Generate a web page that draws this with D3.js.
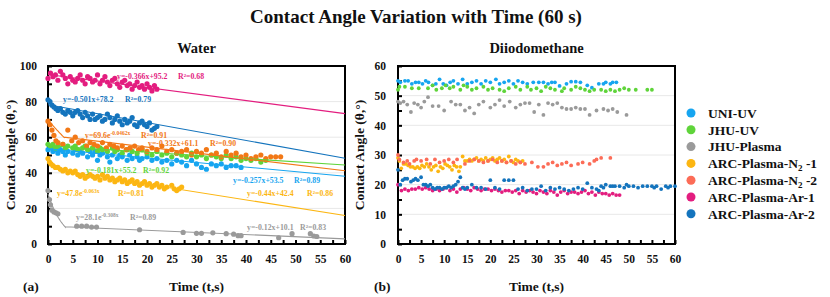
<!DOCTYPE html>
<html>
<head>
<meta charset="utf-8">
<script src="https://cdn.jsdelivr.net/npm/d3@7"></script>
<style>
  body { margin: 0; background: #fff; }
  text { font-family: "Liberation Serif", "DejaVu Serif", serif; font-weight: 700; }
</style>
</head>
<body>
<div id="chart"></div>
<script>
// ── Series names + colours ──────────────────────────────────────────────
const SERIES = ["UNI-UV", "JHU-UV", "JHU-Plasma", "ARC-Plasma-N2-1", "ARC-Plasma-N2-2", "ARC-Plasma-Ar-1", "ARC-Plasma-Ar-2"];
const COLORS = ["#16a5f0", "#5fd43a", "#9a9a9a", "#fcb612", "#fc6c57", "#e31d7f", "#1474bd"];
const WATER_COLORS = ["#16a5f0", "#5fd43a", "#9a9a9a", "#fcb612", "#f27816", "#e31d7f", "#1474bd"];

const TIME_TICKS = [0, 5, 10, 15, 20, 25, 30, 35, 40, 45, 50, 55, 60];
const WATER_TICKS = [0, 20, 40, 60, 80, 100];
const DIIODO_TICKS = [0, 10, 20, 30, 40, 50, 60];

// ── Water: [time s, angle °] ────────────────────────────────────────────
const waterUniUV = [[0,53],[0.5,54],[1,52],[1.5,53],[2,51],[2.5,53],[3,52],[3.5,50],[4,52],[5,51],[5.5,53],[6,50],[6.5,52],[7,51],[8,49],[8.5,52],[9,50],[9.5,52],[10,47],[10.5,50],[11,51],[12,49],[12.5,46],[13,50],[14,48],[14.5,50],[15,49],[16,47],[16.5,50],[17,48],[18,49],[18.5,47],[19,48],[20,49],[21,47],[22,48],[23,46],[24,47],[25,45],[26,47],[27,46],[28,44],[29,47],[30,45],[31,43],[32,42],[33,45],[34,44],[35,45],[36,43],[37,44],[38,44],[39,43]];
const waterJhuUV = [[0,56],[0.5,55],[1,56],[1.5,54],[2,55],[3,56],[3.5,54],[4,55],[5,54],[5.5,55],[6,53],[7,54],[7.5,55],[8,53],[9,54],[10,52],[10.5,54],[11,53],[12,52],[13,54],[13.5,52],[14,53],[15,51],[16,53],[17,52],[18,51],[19,53],[20,51],[21,50],[22,52],[23,50],[24,51],[25,49],[26,51],[27,50],[28,49],[29,51],[30,49],[31,50],[32,48],[33,50],[34,49],[35,48],[36,50],[37,48],[38,49],[39,47],[40,48],[41,47],[42,48],[43,46],[44,47]];
const waterJhuPlasma = [[0,30],[0.3,25],[0.5,22],[0.8,19],[1.2,18],[1.6,17.5],[2,17],[5.8,10],[6.8,10],[7.8,10],[8.8,9.5],[9.8,9.5],[18.5,8],[27.3,6.5],[30,6],[31,6],[33.3,6.3],[36,5.8],[37.5,5.5],[38.4,4.7],[39,4.7],[46.6,3.5],[49.3,5.8],[53,5.8],[53.7,4.5],[54.3,4.2]];
const waterArcN2a = [[0,48],[0.3,46],[0.6,45],[1,44],[1.5,43],[2,43],[2.5,42],[3,41],[3.5,42],[4,40],[4.5,41],[5,40],[5.5,41],[6,39],[6.5,38],[7,39],[7.5,37],[8,38],[8.5,39],[9,38],[9.5,37],[10,38],[10.5,36],[11,39],[11.5,37],[12,38],[12.5,36],[13,37],[13.5,35],[14,36],[14.5,37],[15,35],[15.5,36],[16,34],[16.5,35],[17,36],[17.5,34],[18,35],[18.5,33],[19,34],[19.5,35],[20,33],[20.5,34],[21,32],[21.5,33],[22,34],[22.5,32],[23,33],[23.5,31],[24,32],[25,33],[25.5,31],[26,30],[26.5,31],[27,32]];
const waterArcN2b = [[0,69],[0.4,67],[0.8,64],[1.2,61],[1.6,58],[2,57],[3,56],[4,64],[4.8,58],[5.5,60],[6.2,57],[7,58],[7.8,55],[8.5,57],[9.3,56],[10,55],[11,57],[11.8,54],[12.5,56],[13.3,55],[14,54],[15,55],[15.8,53],[16.6,54],[17.5,55],[18.3,53],[19,54],[20,52],[21,54],[22,53],[23,55],[24,52],[25,53],[26,51],[27,52],[28,53],[29,50],[30,52],[31,51],[32,53],[33,50],[34,51],[35,49],[36,52],[37,50],[38,51],[39,49],[40,50],[41,48],[42,49],[43,50],[44,48],[45,49],[46,49],[47,49]];
const waterArcAr1 = [[0,93],[0.5,96],[1,94],[1.5,95],[2,92],[2.5,97],[3,95],[3.5,93],[4,90],[4.5,94],[5,92],[5.5,91],[6,93],[6.5,95],[7,92],[7.5,90],[8,94],[8.5,93],[9,91],[9.5,92],[10,95],[10.5,90],[11,92],[11.5,94],[12,91],[12.5,89],[13,92],[13.5,93],[14,90],[14.5,88],[15,91],[15.5,92],[16,89],[16.5,90],[17,87],[17.5,89],[18,91],[18.5,88],[19,89],[19.5,87],[20,90],[20.5,88],[21,86],[21.5,89],[22,87]];
const waterArcAr2 = [[0,81],[0.4,80],[0.8,78],[1.2,77],[1.6,76],[2,75],[2.5,76],[3,74],[3.5,73],[4,75],[4.5,74],[5,72],[5.5,74],[6,75],[6.5,73],[7,71],[7.5,74],[8,72],[8.5,70],[9,73],[9.5,70],[10,71],[10.5,72],[11,69],[11.5,70],[12,73],[12.5,71],[13,68],[13.5,70],[14,72],[14.5,69],[15,67],[15.5,70],[16,68],[16.5,69],[17,71],[17.5,67],[18,66],[18.5,68],[19,69],[19.5,67],[20,66],[20.5,68],[21,64],[21.5,65],[22,66]];
const waterData = [waterUniUV, waterJhuUV, waterJhuPlasma, waterArcN2a, waterArcN2b, waterArcAr1, waterArcAr2];

// ── Water fits (from the printed equations) ─────────────────────────────
const linSlope = [-0.257, -0.181, -0.12, -0.44, -0.332, -0.366, -0.501];
const linIntercept = [53.5, 55.2, 10.1, 42.4, 61.1, 95.2, 78.2];
const linR2 = ["0.89", "0.92", "0.83", "0.86", "0.90", "0.68", "0.79"];
const expA = [null, null, 28.1, 47.8, 69.6, null, null];
const expK = [null, null, 0.308, 0.063, 0.0462, null, null];
const expR2 = [null, null, "0.89", "0.81", "0.91", null, null];
const expKLabel = [null, null, "-0.308x", "-0.063x", "-0.0462x", null, null];
const expUntil = [null, null, 3.5, 2.3, 3.2, null, null];

// ── Diiodomethane: [time s, angle °] ────────────────────────────────────
const diUniUV = [[0,55],[0.5,54.5],[1.5,55],[2.2,55],[3,54],[3.8,54.5],[4.5,54.5],[5.3,54],[6,55],[6.6,54.5],[7.5,53.5],[8.2,54],[9,55.5],[9.8,54],[10.5,53.5],[11.3,54.5],[12,55],[13,54],[14,55.5],[15,54],[16,54.5],[17,55],[18,54],[19,55],[20,54.5],[21.2,55.5],[22,54],[23,54.5],[24,55],[25,54],[26,55],[27,54.5],[28,54],[29.3,54.5],[30.5,54.5],[31.5,54.5],[32.5,54],[33.3,54.5],[34,54.5],[35,53.3],[36.5,54],[37.5,54.7],[38.5,54.7],[39.5,54.5],[41,53.5],[42,52.7],[43.5,54],[44.5,54],[45,54.5],[46,54],[46.5,54.5],[47.3,54.5]];
const diJhuUV = [[0,52],[0.3,53],[1.5,53],[3,52.5],[4.5,52.5],[6.5,52.5],[7.5,53.5],[8.3,52],[9.5,52.5],[10.3,53.5],[11.2,52.5],[12,53],[13.5,52],[14.2,53.5],[15,53],[16,52],[17,52.5],[18.5,53],[19.5,52],[20.5,52.5],[22,52],[23,51.5],[24,52.5],[25.5,53],[26.5,52],[28,53],[28.8,52],[30,52.5],[31,51.5],[32,53],[33,52.5],[34,52],[35.5,51.5],[36,52.5],[37.5,52],[38.5,53],[39.5,52.5],[40.5,52],[41.5,51.5],[42.5,52],[44,52],[45,51.5],[46,52],[47,51.5],[48,52],[49,52.5],[50,52],[51.5,52],[54,52],[55,52]];
const diJhuPlasma = [[0,48],[0.5,47.5],[1.2,48],[2,47],[2.8,44.5],[3.5,47.5],[4.3,47],[5,46],[5.7,48],[6.5,49.5],[7.5,46.5],[8.8,46.5],[10,45],[11.5,48],[12.5,47],[13.5,47],[14.5,45],[15.5,46],[16.5,44],[17.5,47],[18.5,48],[20,46],[21,47],[22,48.5],[23,46.5],[24.2,48],[25.5,46],[26.5,47],[27.5,47.5],[28.5,47.5],[29.5,44.5],[30.5,47],[31.5,43.5],[32.5,47.5],[33.5,47],[34.5,47.5],[35.5,46],[36.5,45.5],[37.5,45.5],[38.5,46],[39.5,45.5],[40.5,45.5],[41.5,43.5],[43,45],[44.5,45.5],[45.5,45],[46.5,45.5],[47.5,44.5],[49.5,43.5]];
const diArcN2a = [[0,29],[0.3,28],[0.7,25.5],[1.2,27],[1.7,27],[2.2,26.5],[2.7,26],[3.2,26],[3.7,25.5],[4.2,26],[4.7,25.5],[5.2,26.5],[5.7,26],[6.2,27],[6.7,26],[7.2,25],[7.7,26],[8.2,26.5],[8.7,24.5],[9.2,26],[9.7,25.5],[10.2,27],[10.7,26.5],[11.2,26],[11.7,25],[12.2,26.5],[12.7,26],[13.2,24.5],[13.5,26],[14,29.5],[14.5,28],[15,28],[15.5,28.5],[16,28],[16.5,28.5],[17,29],[17.5,28],[18,28.5],[18.5,28],[19,29],[19.5,28],[20,28.5],[20.5,29],[21,28],[21.5,28.5],[22,29],[22.5,28],[23,28.5],[23.5,27.5],[24,29.5],[24.5,28],[25,27.5],[25.5,28.5],[26,28],[26.5,27.5],[27,28]];
const diArcN2b = [[0,30],[0.3,28.5],[1.2,27.5],[2,28],[2.5,27],[3.5,28],[4,28.5],[5,28],[6.2,28.5],[7,27],[8,28.5],[9,27.5],[10,28],[11,28.5],[12,27.5],[12.8,28.5],[14.5,27],[15.5,28],[16.5,28.5],[17.5,28],[18.5,27.5],[19.5,28],[20.5,28.5],[21.5,27.5],[22.5,28],[23.5,27.5],[24.5,28],[25.5,27],[26.5,27.5],[27.5,27],[29,27.5],[30.3,26],[31.5,26],[32.5,27],[33.5,27.5],[34.5,26.5],[35.5,27],[36.5,27.5],[37.5,26.5],[39,27],[40,27.5],[41.5,27],[42.5,28],[43,28.5],[44,29],[46,29]];
const diArcAr1 = [[0,20],[0.75,18],[1.5,18.5],[2.25,18],[3,18.5],[3.75,18.5],[4.5,19],[5.25,18.5],[6,19],[6.75,18.5],[7.5,18],[8.25,18.5],[9,18],[9.75,18.5],[10.5,19],[11.25,18],[12,18.5],[12.75,17.5],[13.5,18.5],[14.25,19],[15,18.5],[15.75,18],[16.5,19],[17.25,18.5],[18,18],[18.75,18.5],[19.5,18.5],[20.25,18],[21,18.5],[21.75,18],[22.5,17.5],[23.25,18],[24,18],[24.75,17.5],[25.5,18],[26.25,17],[27,18],[27.75,17.5],[28.5,18],[29.25,17.5],[30,17],[30.75,18],[31.5,17.5],[32.25,17],[33,18],[33.75,17.5],[34.5,16.5],[35.25,17.5],[36,18],[36.75,17],[37.5,17.5],[38.25,17.5],[39,17],[39.75,17.5],[40.5,18],[41.25,17],[42,17.5],[42.75,16.5],[43.5,17.5],[44.25,17],[45,17],[45.75,16.5],[46.5,17],[47.25,16.5],[48,16.5]];
const diArcAr2 = [[0,25],[0.5,20],[1,21.5],[1.5,22],[2,22],[2.8,21],[3.3,21.5],[3.8,22],[4.3,21.5],[5,22.5],[5.5,20],[6,20],[6.5,19.5],[7,20],[7.5,19],[8,18.5],[8.5,19],[9,19],[9.5,18.5],[10,19],[10.5,19],[11,19.5],[11.5,19],[12,19.5],[12.5,20],[13,21],[13.5,22.5],[14,19],[14.5,18.5],[15,19],[16,20],[17,19],[18,19],[19,18.5],[20,21.5],[21,19],[22,18.5],[23,21.5],[24,21.5],[25,21.5],[26,18.5],[27,19],[28,18],[29,18.5],[30,18.5],[31,19.5],[32,18],[33,19],[34,18.5],[35,19],[36,18.5],[37,18],[38,18.5],[39,19],[40,18.5],[41,20.5],[42,19],[43,18.5],[43.5,18],[44,19.5],[44.5,19],[45,20],[46,19.5],[46.5,19.5],[47,19.5],[48,19.5],[49,19],[49.5,20],[50,19.5],[51,19.5],[52,19],[53,19.5],[54,19.5],[55,19.5],[55.5,19],[56,19.5],[57,18.5],[58,19.5],[58.5,19],[59,19.5],[60,19.5]];
const diiodoData = [diUniUV, diJhuUV, diJhuPlasma, diArcN2a, diArcN2b, diArcAr1, diArcAr2];

// ── Layout ──────────────────────────────────────────────────────────────
const W = 830, H = 297;
const TOP = 66, BOTTOM = 244;

const svg = d3.select("#chart").append("svg")
  .attr("width", W).attr("height", H);

svg.append("text")
  .attr("x", 416).attr("y", 23)
  .style("font-size", "19px").style("text-anchor", "middle").style("fill", "#111")
  .text("Contact Angle Variation with Time (60 s)");

function panel(opts) {
  const x = d3.scaleLinear().domain([0, 60]).range([opts.left, opts.right]);
  const y = d3.scaleLinear().domain([0, opts.yMax]).range([BOTTOM, TOP]);
  const g = svg.append("g");

  // gridlines
  opts.yTicks.filter(v => v > 0 && v < opts.yMax).forEach(v => {
    g.append("line")
      .attr("x1", opts.left).attr("x2", opts.right)
      .attr("y1", y(v)).attr("y2", y(v))
      .attr("stroke", "#e8e8e8").attr("stroke-width", 1);
  });

  // minor inward ticks
  g.append("g").attr("transform", `translate(${opts.left},0)`)
    .call(d3.axisLeft(y).tickValues(d3.range(0, opts.yMax + 0.01, opts.yMinor)).tickSize(-4).tickFormat(""))
    .call(a => a.select(".domain").remove())
    .call(a => a.selectAll("line").attr("stroke", "#000").attr("stroke-width", 2));
  g.append("g").attr("transform", `translate(0,${BOTTOM})`)
    .call(d3.axisBottom(x).tickValues(d3.range(0, 60.01, 2.5)).tickSize(-4).tickFormat(""))
    .call(a => a.select(".domain").remove())
    .call(a => a.selectAll("line").attr("stroke", "#000").attr("stroke-width", 2));

  // labels
  g.append("g").attr("transform", `translate(${opts.left},0)`)
    .call(d3.axisLeft(y).tickValues(opts.yTicks).tickSize(0).tickPadding(opts.yPad))
    .call(a => a.select(".domain").remove())
    .call(a => a.selectAll("text").style("font-family", "Liberation Serif").style("font-weight", 700)
      .style("font-size", "11.5px").attr("fill", "#111"));
  g.append("g").attr("transform", `translate(0,${BOTTOM})`)
    .call(d3.axisBottom(x).tickValues(TIME_TICKS).tickSize(0).tickPadding(11))
    .call(a => a.select(".domain").remove())
    .call(a => a.selectAll("text").style("font-family", "Liberation Serif").style("font-weight", 700)
      .style("font-size", "11.5px").attr("fill", "#111"));

  // frame
  g.append("rect")
    .attr("x", opts.left).attr("y", TOP)
    .attr("width", opts.right - opts.left).attr("height", BOTTOM - TOP)
    .attr("fill", "none").attr("stroke", "#000").attr("stroke-width", 2);

  // titles
  const mid = (opts.left + opts.right) / 2;
  svg.append("text").attr("x", mid).attr("y", 53)
    .style("font-size", "14.5px").style("text-anchor", "middle").style("fill", "#111")
    .text(opts.title);
  svg.append("text").attr("x", mid).attr("y", 291)
    .style("font-size", "13.5px").style("text-anchor", "middle").style("fill", "#111")
    .text("Time (t,s)");
  svg.append("text").attr("x", opts.tagX).attr("y", 291)
    .style("font-size", "13.5px").style("fill", "#111")
    .text(opts.tag);
  svg.append("text")
    .attr("transform", `translate(${opts.yTitleX},${(TOP + BOTTOM) / 2}) rotate(-90)`)
    .style("font-size", "13.5px").style("text-anchor", "middle").style("fill", "#111")
    .text("Contact Angle (\u03b8,\u00b0)");

  return { x, y, g };
}

// ── Panel (a): Water ────────────────────────────────────────────────────
const pa = panel({ left: 48, right: 345, yMax: 100, yTicks: WATER_TICKS, yMinor: 10, yPad: 11,
  title: "Water", tag: "(a)", tagX: 23, yTitleX: 15 });

waterData.forEach((pts, i) => {
  pa.g.append("g").selectAll("circle").data(pts).join("circle")
    .attr("cx", d => pa.x(d[0])).attr("cy", d => pa.y(d[1]))
    .attr("r", 2.6).attr("fill", WATER_COLORS[i]);
});

// fit curves: exponential near t=0, then linear to 60 s
waterData.forEach((pts, i) => {
  const start = expA[i] != null ? expUntil[i] : 0;
  const path = [];
  if (expA[i] != null) {
    d3.range(0, start + 0.001, start / 20).forEach(t => path.push([t, expA[i] * Math.exp(-expK[i] * t)]));
  }
  path.push([start, linIntercept[i] + linSlope[i] * start]);
  path.push([60, linIntercept[i] + linSlope[i] * 60]);
  pa.g.append("path")
    .attr("d", d3.line().x(d => pa.x(d[0])).y(d => pa.y(d[1]))(path))
    .attr("fill", "none").attr("stroke", WATER_COLORS[i]).attr("stroke-width", 1.1);
});

// equation labels [series, kind, eq x px, R² x px, baseline px]
const eqLabels = [
  [5, "lin", 117, 178, 78.5],
  [6, "lin", 63, 125, 102],
  [4, "exp", 85, 141, 137.5],
  [4, "lin", 148, 210, 146],
  [1, "lin", 86, 143, 172.5],
  [0, "lin", 233, 294, 182.5],
  [3, "exp", 57, 118, 196],
  [3, "lin", 247, 307, 196],
  [2, "exp", 76, 130, 220],
  [2, "lin", 247, 300, 229.5]
];
const fmtSigned = v => (v < 0 ? "-" : "+") + Math.abs(v);
eqLabels.forEach(([i, kind, ex, rx, by]) => {
  const t = svg.append("text").attr("x", ex).attr("y", by)
    .style("font-size", "7.8px").style("fill", WATER_COLORS[i]);
  if (kind === "lin") {
    t.text("y=" + linSlope[i] + "x" + fmtSigned(linIntercept[i]));
  } else {
    t.append("tspan").text("y=" + expA[i] + "e");
    t.append("tspan").attr("dy", -3).style("font-size", "5.5px").text(expKLabel[i]);
  }
  svg.append("text").attr("x", rx).attr("y", by)
    .style("font-size", "7.8px").style("fill", WATER_COLORS[i])
    .text("R\u00b2=" + (kind === "lin" ? linR2[i] : expR2[i]));
});

// ── Panel (b): Diiodomethane ────────────────────────────────────────────
const pb = panel({ left: 398, right: 675, yMax: 60, yTicks: DIIODO_TICKS, yMinor: 5, yPad: 12,
  title: "Diiodomethane", tag: "(b)", tagX: 374, yTitleX: 364 });

diiodoData.forEach((pts, i) => {
  pb.g.append("g").selectAll("circle").data(pts).join("circle")
    .attr("cx", d => pb.x(d[0])).attr("cy", d => pb.y(d[1]))
    .attr("r", 1.9).attr("fill", COLORS[i]);
});

// ── Legend ──────────────────────────────────────────────────────────────
const legend = svg.append("g").attr("transform", "translate(691,113)");
SERIES.forEach((name, i) => {
  const row = legend.append("g").attr("transform", `translate(0,${i * 16.8})`);
  row.append("circle").attr("r", 4.5).attr("fill", COLORS[i]);
  const t = row.append("text").attr("x", 17).attr("y", 4.8)
    .style("font-size", "13.5px").style("fill", "#111");
  const m = name.match(/^(.*)N2(.*)$/);
  if (m) {
    t.append("tspan").text(m[1] + "N");
    t.append("tspan").attr("dy", 3).style("font-size", "9px").text("2");
    t.append("tspan").attr("dy", -3).text(" " + m[2]);
  } else {
    t.text(name);
  }
});
</script>
</body>
</html>
